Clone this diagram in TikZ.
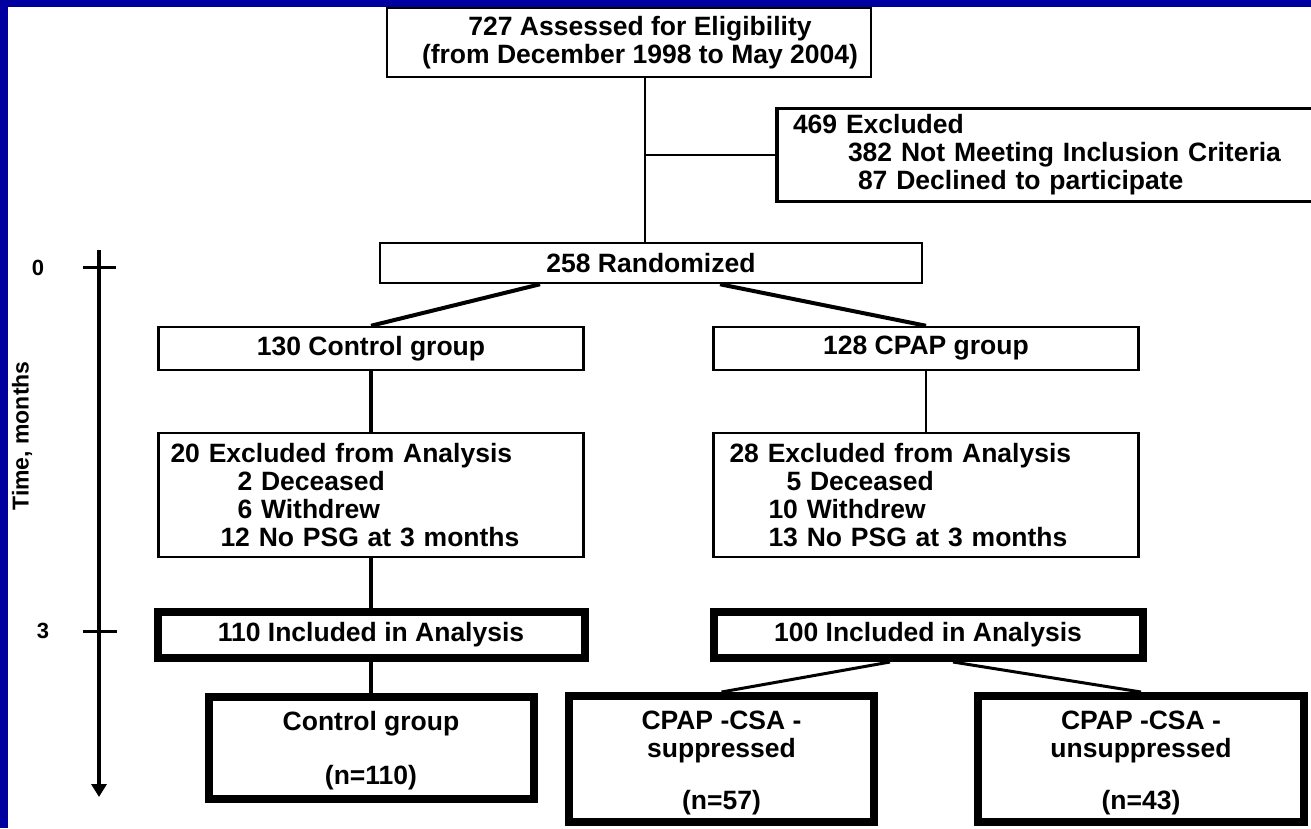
\documentclass[tikz,border=0pt]{standalone}
\usepackage{fontspec}
\setmainfont{Liberation Sans}
\usetikzlibrary{arrows.meta,calc}
\definecolor{slideblue}{RGB}{0,0,160}
\tikzset{flowbox/.style={draw=black,line width=2.5pt,inner sep=0pt,align=center,
    font=\bfseries\fontsize{26.5}{28}\selectfont}}
\tikzset{listbox/.style={flowbox,align=left,inner xsep=#1,inner ysep=0pt},listbox/.default=14pt}
\tikzset{keybox/.style={flowbox,line width=8pt}}
\tikzset{link/.style={line width=#1},link/.default=4pt}
\tikzset{axislabel/.style={font=\bfseries\fontsize{22}{24}\selectfont}}

\begin{document}
\begin{tikzpicture}[x=1pt,y=-1pt]
\useasboundingbox (0,0) rectangle (1311,828);
\fill[white] (0,0) rectangle (1311,828);
\fill[slideblue] (0,0) rectangle (1311,7);
\fill[slideblue] (0,0) rectangle (8,828);
% time axis
\coordinate (axtop) at (99,250);
\coordinate (axend) at (99,797);
\draw[line width=4pt,-{Triangle[length=13pt,width=15pt]}] (axtop) -- (axend);
\node (m0) [axislabel] at (38,268) {0};
\node (m3) [axislabel] at (43,631) {3};
\draw[line width=3pt] (83,267) -- (116,267);
\draw[line width=3pt] (83,631) -- (117,631);
\node (tlab) [rotate=90,font=\bfseries\fontsize{23}{25}\selectfont] at (22,436) {Time, months};
%
\node (assess) [flowbox,minimum width=484pt,minimum height=69pt] at (629,42.5)
  {\hspace*{22pt}727 Assessed for Eligibility\\\hspace*{22pt}(from December 1998 to May 2004)};
\node (excl) [listbox=16pt,text width=521pt,minimum height=93pt,line width=3.5pt] at (1053.5,155)
  {469 Excluded\\\hspace*{55pt}382 Not Meeting Inclusion Criteria\\\hspace*{65pt}87 Declined to participate};
\node (rand) [flowbox,minimum width=542pt,minimum height=40pt] at (651,263) {258 Randomized};
\node (ctrl) [flowbox,minimum width=425pt,minimum height=43pt] at (371,348.5) {130 Control group};
\node (cpap) [flowbox,minimum width=425pt,minimum height=43pt] at (926,348.5) {128 CPAP group};
\node (exclL) [listbox=12pt,text width=401pt,minimum height=124pt] at (371,495)
  {20 Excluded from Analysis\\\hspace*{67pt}2 Deceased\\\hspace*{67pt}6 Withdrew\\\hspace*{50pt}12 No PSG at 3 months};
\node (exclR) [listbox=16pt,text width=393pt,minimum height=124pt] at (926,495)
  {28 Excluded from Analysis\\\hspace*{57pt}5 Deceased\\\hspace*{39pt}10 Withdrew\\\hspace*{39pt}13 No PSG at 3 months};
\node (inclL) [keybox,minimum width=427pt,minimum height=46pt] at (371,635) {110 Included in Analysis};
\node (inclR) [keybox,minimum width=429pt,minimum height=46pt] at (928,635) {100 Included in Analysis};
\node (grpL) [keybox,minimum width=325pt,minimum height=102pt] at (371,748)
  {\rule{0pt}{24pt}Control group\\[26pt](n=110)};
\node (supp) [keybox,minimum width=305pt,minimum height=126pt] at (721.5,759)
  {\rule{0pt}{27pt}CPAP -CSA -\\suppressed\\[24pt](n=57)};
\node (unsupp) [keybox,minimum width=326pt,minimum height=126pt] at (1141,759)
  {\rule{0pt}{27pt}CPAP -CSA -\\unsuppressed\\[24pt](n=43)};
%
\coordinate (trunk) at (645,155);
\path[link=2.5pt] (trunk |- assess.south) edge (trunk |- rand.north);
\path[link=2.5pt] (trunk) edge (trunk -| excl.west);
\path[link] ($(rand.south)+(-111,0)$) edge (ctrl.north);
\path[link] ($(rand.south)+(69,0)$) edge (cpap.north);
\path[link=4.5pt] (ctrl.south) edge (exclL.north);
\path[link=4.5pt] (exclL.south) edge (inclL.north);
\path[link=4.5pt] (inclL.south) edge (grpL.north);
\path[link=2.5pt] (cpap.south) edge (exclR.north);
\path[link=3pt] ($(inclR.south)+(-38,0)$) edge (supp.north);
\path[link=3pt] ($(inclR.south)+(25,0)$) edge (unsupp.north);
\end{tikzpicture}
\end{document}
